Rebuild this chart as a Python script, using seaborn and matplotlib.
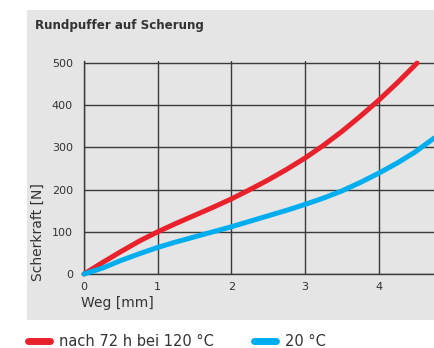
import numpy as np
import pandas as pd
import seaborn as sns
import matplotlib
matplotlib.use("Agg")
import matplotlib.pyplot as plt
from matplotlib.patches import Rectangle
from matplotlib.lines import Line2D

# ---- data ----
weg_red = [0, 0.25, 0.5, 0.75, 1.0, 1.25, 1.5, 1.75, 2.0, 2.25, 2.5, 2.75, 3.0, 3.25, 3.5, 3.75, 4.0, 4.25, 4.52]
kraft_red = [0, 27, 53, 78, 100, 120, 139, 158, 178, 200, 223, 248, 275, 305, 338, 374, 412, 453, 500]
weg_blue = [0, 0.25, 0.5, 0.75, 1.0, 1.25, 1.5, 1.75, 2.0, 2.25, 2.5, 2.75, 3.0, 3.25, 3.5, 3.75, 4.0, 4.25, 4.5, 4.75]
kraft_blue = [0, 14, 32, 48, 63, 76, 88, 100, 112, 125, 138, 151, 165, 180, 197, 217, 239, 263, 290, 322]
series_labels = ["nach 72 h bei 120 °C", "20 °C"]
x_ticks = [0, 1, 2, 3, 4]
y_ticks = [0, 100, 200, 300, 400, 500]

df = pd.concat([
    pd.DataFrame({"Weg": weg_red, "Kraft": kraft_red, "Serie": series_labels[0]}),
    pd.DataFrame({"Weg": weg_blue, "Kraft": kraft_blue, "Serie": series_labels[1]}),
], ignore_index=True)

sns.set_style("white")
plt.rcParams["font.family"] = ["DejaVu Sans"]

RED = "#e8212b"
BLUE = "#00aeef"
GRID = "#3a3a3a"
PANEL = "#e5e5e5"

W, H = 434, 348
fig = plt.figure(figsize=(W / 100, H / 100), dpi=100)
fig.patch.set_facecolor("white")

# gray panel
fig.patches.append(Rectangle((27 / W, 1 - 320 / H), 1 - 27 / W, (320 - 10) / H,
                             transform=fig.transFigure, facecolor=PANEL,
                             edgecolor="none", zorder=-5))

ax = fig.add_axes([84 / W, 74 / H, 1 - 84 / W, 213 / H])
ax.set_zorder(3)
ax.set_facecolor("none")

sns.lineplot(data=df, x="Weg", y="Kraft", hue="Serie",
             palette={series_labels[0]: RED, series_labels[1]: BLUE},
             linewidth=3.6, legend=False, ax=ax, sort=False, zorder=5)
for ln in ax.lines:
    ln.set_solid_capstyle("round")
    ln.set_clip_on(False)

ax.set_xlim(0, 4.75)
ax.set_ylim(0, 505)
ax.set_xticks(x_ticks)
ax.set_yticks(y_ticks)
ax.set_xticklabels([str(t) for t in x_ticks])
ax.set_yticklabels([str(t) for t in y_ticks])
ax.grid(True, color=GRID, linewidth=1.0)
ax.set_axisbelow(True)
for name, s in ax.spines.items():
    if name in ("left", "bottom"):
        s.set_visible(True)
        s.set_color(GRID)
        s.set_linewidth(1.0)
    else:
        s.set_visible(False)
ax.tick_params(axis="both", direction="out", length=3, width=1.0, color=GRID,
               labelsize=8, labelcolor="#333333")
ax.tick_params(axis="y", pad=5)
ax.tick_params(axis="x", pad=3)
ax.set_xlabel("")
ax.set_ylabel("")

fig.text(81 / W, 1 - 303 / H, "Weg [mm]", ha="left", va="center",
         fontsize=10, color="#333333", zorder=4)
fig.text(38 / W, 1 - 281 / H, "Scherkraft [N]", rotation=90, ha="center",
         va="bottom", fontsize=10, color="#333333", zorder=4)
fig.text(35 / W, 1 - 25 / H, "Rundpuffer auf Scherung", ha="left", va="center",
         fontsize=8.6, fontweight="bold", color="#333333", zorder=4)

handles = [Line2D([0], [0], color=RED, linewidth=5, solid_capstyle="round"),
           Line2D([0], [0], color=BLUE, linewidth=5, solid_capstyle="round")]
fig.legend(handles, series_labels, loc="center left",
           bbox_to_anchor=(28 / W, 1 - 342 / H), ncol=2, frameon=False,
           fontsize=10.5, handlelength=1.5, handletextpad=0.6,
           columnspacing=2.8, borderpad=0, borderaxespad=0,
           labelcolor="#333333")

fig.savefig("out.png", dpi=100)
